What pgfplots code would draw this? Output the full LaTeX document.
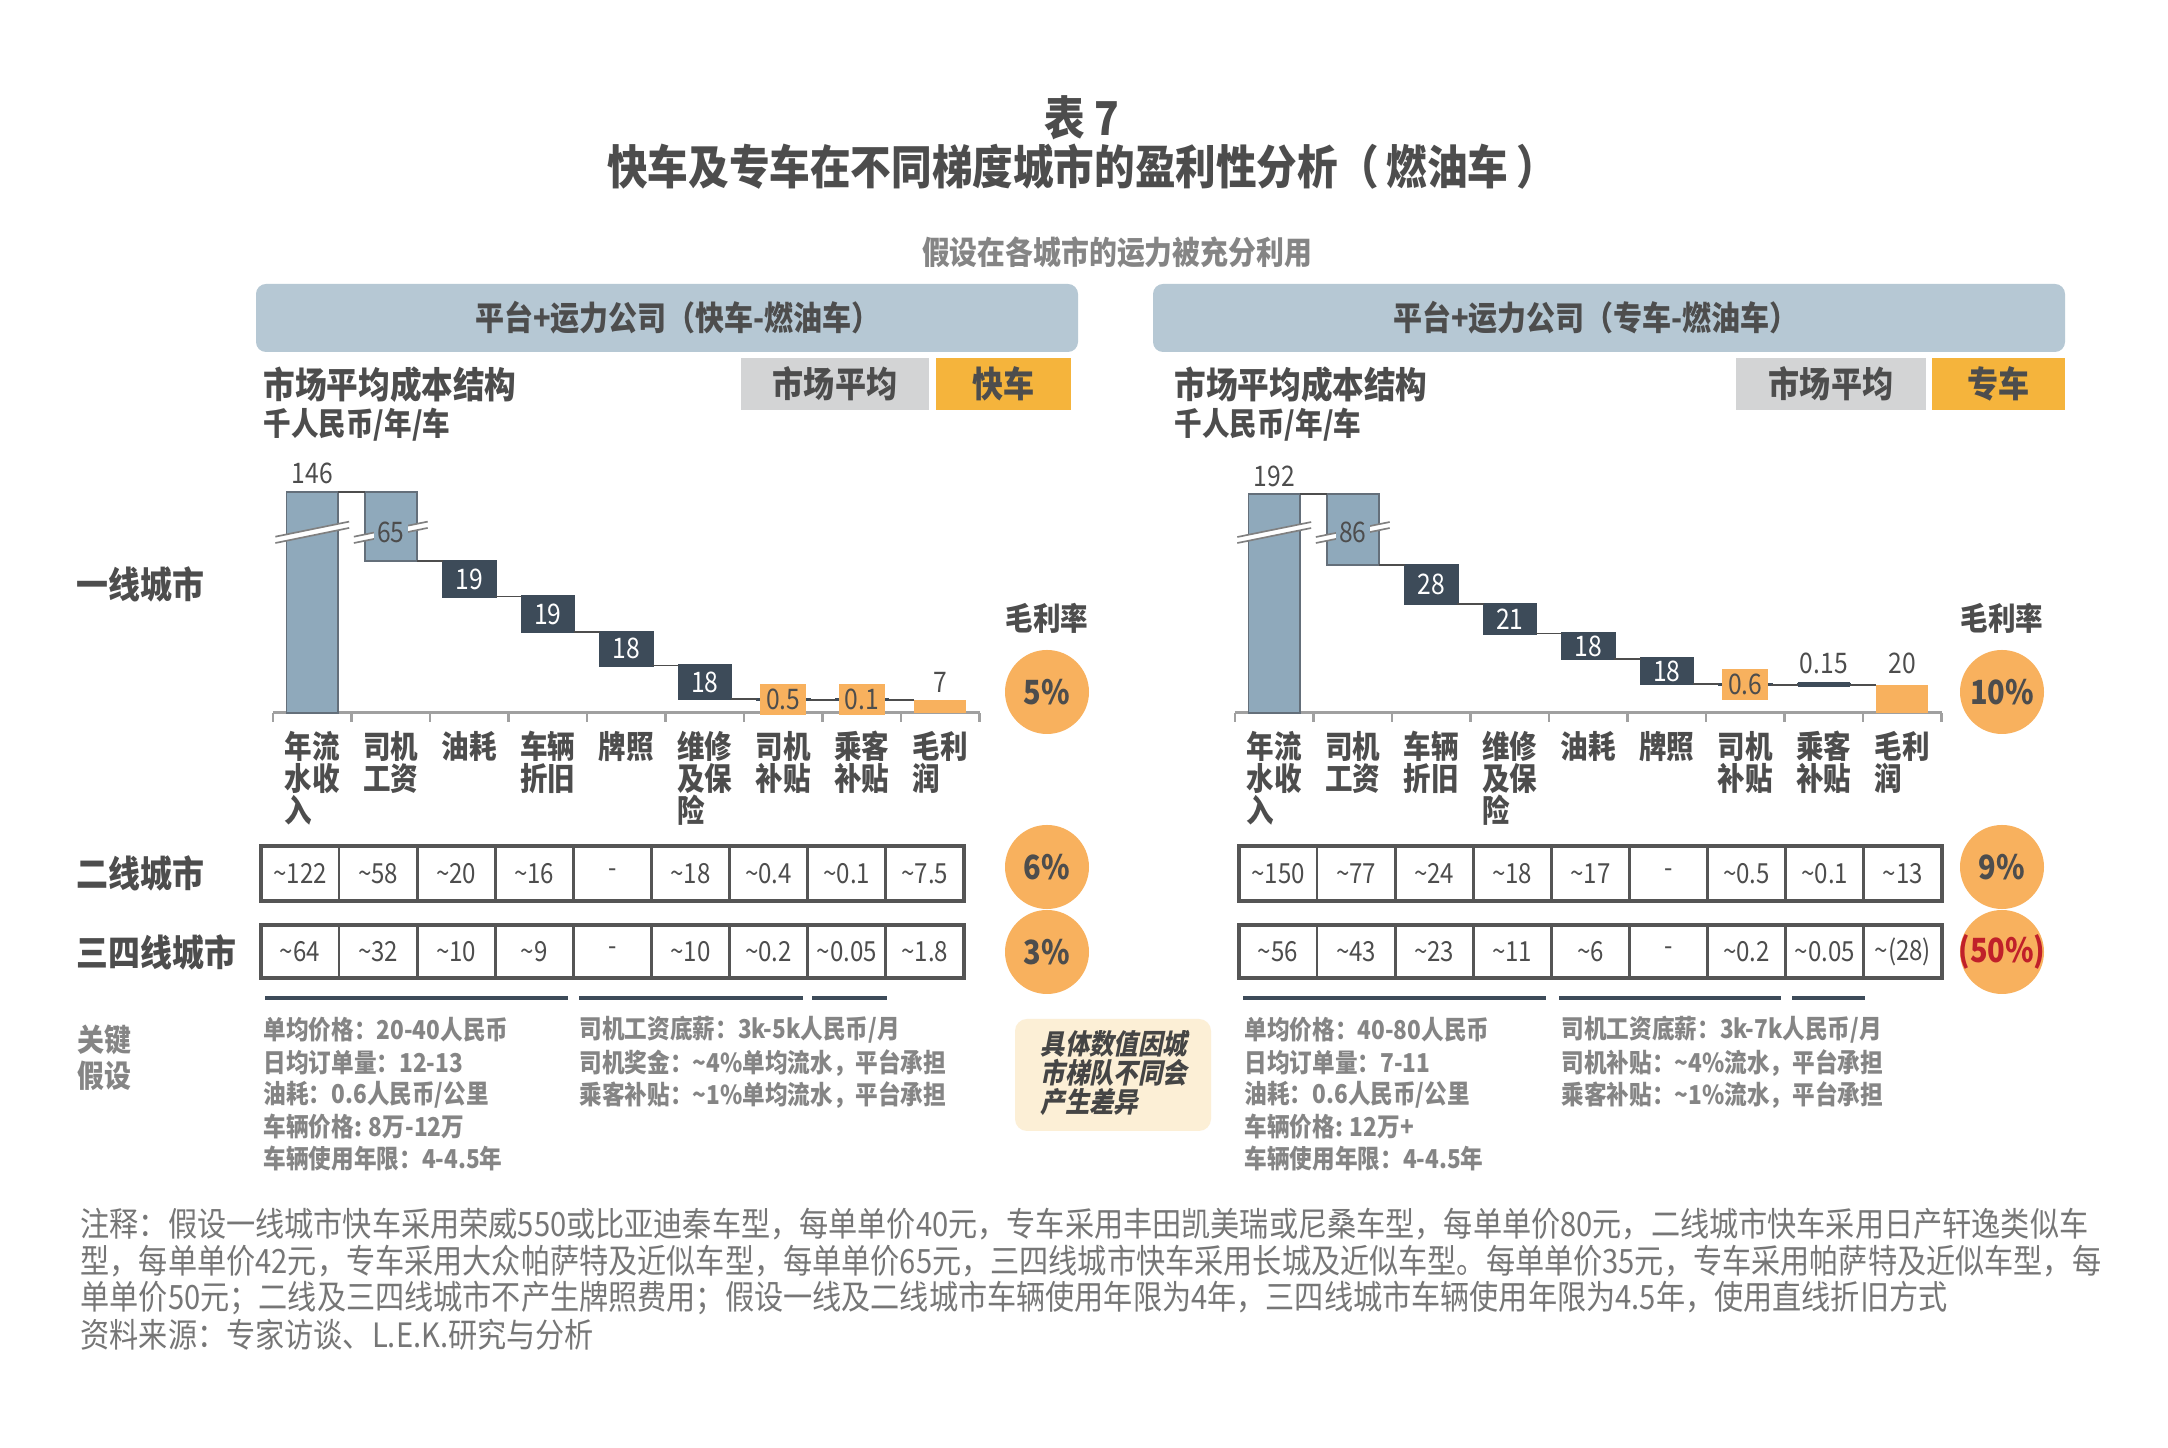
\documentclass[border=0pt]{standalone}
\usepackage{fontspec}
\setmainfont{Noto Sans CJK SC}[FakeStretch=0.87]
\newfontfamily\slfont{Noto Sans CJK SC}[FakeStretch=0.87, FakeSlant=0.2]
\usepackage{pgfplots}
\pgfplotsset{compat=1.18}
\definecolor{txt}{HTML}{4D4D4D}
\definecolor{hdr}{HTML}{B6C8D4}
\definecolor{steel}{HTML}{8FA9BB}
\definecolor{slate}{HTML}{3D4B59}
\definecolor{orng}{HTML}{F8B15E}
\definecolor{gold}{HTML}{F5B43C}
\definecolor{lgray}{HTML}{D3D4D5}
\definecolor{midgray}{HTML}{858585}
\definecolor{footgray}{HTML}{767676}
\definecolor{cream}{HTML}{FCEFD6}
\definecolor{redt}{HTML}{C0202A}
\definecolor{axgray}{HTML}{A0A0A0}
\definecolor{tbl}{HTML}{555555}
\newcommand{\fs}[2]{\fontsize{#1}{#2}\selectfont}
\newcommand{\tld}{\textasciitilde}
\pgfplotsset{wf/.style={
  scale only axis, width=212pt, height=78pt,
  anchor=south west,
  xmin=-0.5, xmax=8.5, ymin=0,
  ybar stacked, bar width=0.66,
  axis x line*=bottom, axis y line=none,
  axis line style={draw=axgray, line width=0.9pt},
  xtick={0,...,8}, major tick length=0pt,
  minor xtick={-0.5,0.5,...,8.5}, minor tick length=2.7pt,
  tick align=outside,
  minor tick style={draw=axgray, line width=0.8pt},
  xticklabel style={align=left, font=\bfseries\fs{9.5}{9.6}, text=txt, yshift=-2pt},
  ytick=\empty, clip=false,
}}
\newcommand{\brk}[5]{% center, y lower-left, y lower-right, y upper-left, y upper-right
  \fill[white] (axis cs:#1-0.47,#2) -- (axis cs:#1+0.47,#3) -- (axis cs:#1+0.47,#5) -- (axis cs:#1-0.47,#4) -- cycle;
  \draw[gray, line width=0.5pt] (axis cs:#1-0.47,#2) -- (axis cs:#1+0.47,#3);
  \draw[gray, line width=0.5pt] (axis cs:#1-0.47,#4) -- (axis cs:#1+0.47,#5);
}
\newcommand{\leftannot}{%
\draw[txt, line width=0.5pt] (axis cs:0.33,119) -- (axis cs:0.67,119);
\draw[txt, line width=0.5pt] (axis cs:1.33,81.6) -- (axis cs:1.67,81.6);
\draw[txt, line width=0.5pt] (axis cs:2.33,62.6) -- (axis cs:2.67,62.6);
\draw[txt, line width=0.5pt] (axis cs:3.33,43.6) -- (axis cs:3.67,43.6);
\draw[txt, line width=0.5pt] (axis cs:4.33,25.6) -- (axis cs:4.67,25.6);
\draw[txt, line width=0.5pt] (axis cs:5.33,7.6) -- (axis cs:5.67,7.6);
\draw[txt, line width=0.5pt] (axis cs:6.33,7.1) -- (axis cs:6.67,7.1);
\draw[txt, line width=0.5pt] (axis cs:7.33,7.0) -- (axis cs:7.67,7.0);
\brk{0}{91.4}{99.5}{94.8}{102.9}
\brk{1}{91.4}{99.5}{94.8}{102.9}
\node[anchor=south, font=\fs{8.5}{10}, inner sep=2pt] at (axis cs:0,119) {146};
\node[fill=steel, inner sep=1pt, font=\fs{8.5}{10}] at (axis cs:1,97.2) {65};
\node[text=white, font=\fs{8.5}{10}] at (axis cs:2,72.1) {19};
\node[text=white, font=\fs{8.5}{10}] at (axis cs:3,53.1) {19};
\node[text=white, font=\fs{8.5}{10}] at (axis cs:4,34.6) {18};
\node[text=white, font=\fs{8.5}{10}] at (axis cs:5,16.6) {18};
\node[fill=orng, inner sep=1.5pt, minimum width=13.8pt, minimum height=9pt, font=\fs{8.5}{10}] at (axis cs:6,7.5) {0.5};
\node[fill=orng, inner sep=1.5pt, minimum width=13.8pt, minimum height=9pt, font=\fs{8.5}{10}] at (axis cs:7,7.5) {0.1};
\node[anchor=south, font=\fs{8.5}{10}, inner sep=2pt] at (axis cs:8,7) {7};
}
\newcommand{\rightannot}{%
\draw[txt, line width=0.5pt] (axis cs:0.33,156.4) -- (axis cs:0.67,156.4);
\draw[txt, line width=0.5pt] (axis cs:1.33,105.75) -- (axis cs:1.67,105.75);
\draw[txt, line width=0.5pt] (axis cs:2.33,77.75) -- (axis cs:2.67,77.75);
\draw[txt, line width=0.5pt] (axis cs:3.33,56.75) -- (axis cs:3.67,56.75);
\draw[txt, line width=0.5pt] (axis cs:4.33,38.75) -- (axis cs:4.67,38.75);
\draw[txt, line width=0.5pt] (axis cs:5.33,20.75) -- (axis cs:5.67,20.75);
\draw[txt, line width=0.5pt] (axis cs:6.33,20.15) -- (axis cs:6.67,20.15);
\draw[txt, line width=0.5pt] (axis cs:7.33,20) -- (axis cs:7.67,20);
\draw[slate, line width=1.5pt] (axis cs:6.67,20.075) -- (axis cs:7.33,20.075);
\brk{0}{121.4}{132.1}{125.7}{136.4}
\brk{1}{121.4}{132.1}{125.7}{136.4}
\node[anchor=south, font=\fs{8.5}{10}, inner sep=2pt] at (axis cs:0,156.4) {192};
\node[fill=steel, inner sep=1pt, font=\fs{8.5}{10}] at (axis cs:1,129) {86};
\node[text=white, font=\fs{8.5}{10}] at (axis cs:2,91.75) {28};
\node[text=white, font=\fs{8.5}{10}] at (axis cs:3,67.25) {21};
\node[text=white, font=\fs{8.5}{10}] at (axis cs:4,47.75) {18};
\node[text=white, font=\fs{8.5}{10}] at (axis cs:5,29.75) {18};
\node[fill=orng, inner sep=1.5pt, minimum width=13.8pt, minimum height=9pt, font=\fs{8.5}{10}] at (axis cs:6,20.4) {0.6};
\node[anchor=south, font=\fs{8.5}{10}, inner sep=3pt] at (axis cs:7,20.15) {0.15};
\node[anchor=south, font=\fs{8.5}{10}, inner sep=3pt] at (axis cs:8,20) {20};
}
\begin{document}
\begin{tikzpicture}[x=0.3pt,y=0.3pt, every node/.append style={text=txt}]
\fill[white] (0,0) rectangle (2168,1448);
\path[use as bounding box] (0,0) rectangle (2168,1448);

% titles
\node[font=\bfseries\fs{14}{16}] at (1082,1330) {表 7};
\node[font=\bfseries\fs{14}{16}] at (1082,1281) {快车及专车在不同梯度城市的盈利性分析（\,燃油车\,）};
\node[font=\bfseries\fs{9.6}{11}, text=midgray] at (1117,1196) {假设在各城市的运力被充分利用};

% header boxes
\fill[hdr, rounded corners=3pt] (256,1096) rectangle (1078,1164);
\node[font=\bfseries\fs{10}{12}] at (678,1130) {平台+运力公司（快车-燃油车）};
\fill[hdr, rounded corners=3pt] (1153,1096) rectangle (2065,1164);
\node[font=\bfseries\fs{10}{12}] at (1596,1130) {平台+运力公司（专车-燃油车）};

% sub headers
\node[anchor=west, font=\bfseries\fs{10.9}{12}, inner sep=0pt] at (263,1063) {市场平均成本结构};
\node[anchor=west, font=\bfseries\fs{9.5}{11}, inner sep=0pt] at (263,1023) {千人民币/年/车};
\node[anchor=west, font=\bfseries\fs{10.9}{12}, inner sep=0pt] at (1174,1063) {市场平均成本结构};
\node[anchor=west, font=\bfseries\fs{9.5}{11}, inner sep=0pt] at (1174,1023) {千人民币/年/车};

% legend boxes
\fill[lgray] (741,1038) rectangle (929,1090);
\node[font=\bfseries\fs{10.7}{12}] at (835,1064) {市场平均};
\fill[gold] (936,1038) rectangle (1071,1090);
\node[font=\bfseries\fs{10.7}{12}] at (1003.5,1064) {快车};
\fill[lgray] (1736,1038) rectangle (1926,1090);
\node[font=\bfseries\fs{10.7}{12}] at (1831,1064) {市场平均};
\fill[gold] (1932,1038) rectangle (2065,1090);
\node[font=\bfseries\fs{10.7}{12}] at (1998.5,1064) {专车};

% ---------------- left waterfall (快车) ----------------
% bar heights for the broken bars (146 and 65) are the drawn, truncated heights
\begin{axis}[wf, at={(81.9pt,220.5pt)}, ymax=139.8,
  after end axis/.code={\leftannot},
  xticklabels={{年流\\水收\\入},{司机\\工资},{油耗},{车辆\\折旧},{牌照},{维修\\及保\\险},{司机\\补贴},{乘客\\补贴},{毛利\\润}}]
\addplot[draw=none, fill=none] coordinates {(0,0) (1,81.6) (2,62.6) (3,43.6) (4,25.6) (5,7.6) (6,7.1) (7,7.0) (8,0)};
\addplot[fill=steel, draw=slate!80, line width=0.5pt] coordinates {(0,119) (1,37.4) (2,0) (3,0) (4,0) (5,0) (6,0) (7,0) (8,0)};
\addplot[fill=orng, draw=none] coordinates {(0,0) (1,0) (2,0) (3,0) (4,0) (5,0) (6,0) (7,0) (8,7)};
\addplot[fill=slate, draw=slate, line width=0.8pt] coordinates {(0,0) (1,0) (2,19) (3,19) (4,18) (5,18) (6,0.5) (7,0.1) (8,0)};
\end{axis}

% ---------------- right waterfall (专车) ----------------
\begin{axis}[wf, at={(370.5pt,220.5pt)}, ymax=185.7,
  after end axis/.code={\rightannot},
  xticklabels={{年流\\水收\\入},{司机\\工资},{车辆\\折旧},{维修\\及保\\险},{油耗},{牌照},{司机\\补贴},{乘客\\补贴},{毛利\\润}}]
\addplot[draw=none, fill=none] coordinates {(0,0) (1,105.75) (2,77.75) (3,56.75) (4,38.75) (5,20.75) (6,20.15) (7,20) (8,0)};
\addplot[fill=steel, draw=slate!80, line width=0.5pt] coordinates {(0,156.4) (1,50.65) (2,0) (3,0) (4,0) (5,0) (6,0) (7,0) (8,0)};
\addplot[fill=orng, draw=none] coordinates {(0,0) (1,0) (2,0) (3,0) (4,0) (5,0) (6,0) (7,0) (8,20)};
\addplot[fill=slate, draw=slate, line width=0.8pt] coordinates {(0,0) (1,0) (2,28) (3,21) (4,18) (5,18) (6,0.6) (7,0.15) (8,0)};
\end{axis}

% margin labels
\node[font=\bfseries\fs{9.5}{11}] at (1047,830) {毛利率};
\node[font=\bfseries\fs{9.5}{11}] at (2002,830) {毛利率};
\fill[orng] (1047,756) circle (42); \node[font=\bfseries\fs{10}{12}] at (1047,756) {5\%};
\fill[orng] (1047,581) circle (42); \node[font=\bfseries\fs{10}{12}] at (1047,581) {6\%};
\fill[orng] (1047,496) circle (42); \node[font=\bfseries\fs{10}{12}] at (1047,496) {3\%};
\fill[orng] (2002,756) circle (42); \node[font=\bfseries\fs{10}{12}] at (2002,756) {10\%};
\fill[orng] (2002,581) circle (42); \node[font=\bfseries\fs{10}{12}] at (2002,581) {9\%};
\fill[orng] (2002,496) circle (42); \node[font=\bfseries\fs{10}{12}, text=redt] at (2002,496) {(50\%)};

% row labels
\node[anchor=west, font=\bfseries\fs{11}{12}, inner sep=0pt] at (76,864) {一线城市};
\node[anchor=west, font=\bfseries\fs{11}{12}, inner sep=0pt] at (76,575) {二线城市};
\node[anchor=west, font=\bfseries\fs{11}{12}, inner sep=0pt] at (76,496) {三四线城市};

% tables
\foreach \x in {261,1239}{
  \foreach \yb/\yt in {547/602,470/523}{
    \foreach \i in {1,...,8}{ \draw[tbl, line width=0.8pt] (\x+78.1*\i,\yb) -- (\x+78.1*\i,\yt); }
    \draw[tbl, line width=1.2pt] (\x,\yb) rectangle (\x+703,\yt);
  }
}
\foreach \v [count=\i from 0] in {\tld122,\tld58,\tld20,\tld16,-,\tld18,\tld0.4,\tld0.1,\tld7.5}
  \node[font=\fs{8.3}{10}] at (300+78.1*\i,574.5) {\v};
\foreach \v [count=\i from 0] in {\tld64,\tld32,\tld10,\tld9,-,\tld10,\tld0.2,\tld0.05,\tld1.8}
  \node[font=\fs{8.3}{10}] at (300+78.1*\i,496.5) {\v};
\foreach \v [count=\i from 0] in {\tld150,\tld77,\tld24,\tld18,\tld17,-,\tld0.5,\tld0.1,\tld13}
  \node[font=\fs{8.3}{10}] at (1278+78.1*\i,574.5) {\v};
\foreach \v [count=\i from 0] in {\tld56,\tld43,\tld23,\tld11,\tld6,-,\tld0.2,\tld0.05,\tld(28)}
  \node[font=\fs{8.3}{10}] at (1278+78.1*\i,496.5) {\v};

% underlines
\draw[slate, line width=1.2pt] (265,450) -- (568,450) (579,450) -- (803,450) (812,450) -- (887,450);
\draw[slate, line width=1.2pt] (1243,450) -- (1546,450) (1559,450) -- (1781,450) (1792,450) -- (1865,450);

% key assumptions
\node[anchor=west, font=\bfseries\fs{9.3}{11}, text=midgray, inner sep=0pt] at (77,408) {关键};
\node[anchor=west, font=\bfseries\fs{9.3}{11}, text=midgray, inner sep=0pt] at (77,372) {假设};
\begin{scope}[every node/.append style={anchor=west, font=\bfseries\fs{7.8}{9}, text=midgray, inner sep=0pt}]
\node at (263,418) {单均价格：20-40人民币};
\node at (263,385) {日均订单量：12-13};
\node at (263,353) {油耗：0.6人民币/公里};
\node at (263,321) {车辆价格: 8万-12万};
\node at (263,289) {车辆使用年限：4-4.5年};
\node at (579,418) {司机工资底薪：3k-5k人民币/月};
\node at (579,385) {司机奖金：\tld4\%单均流水，平台承担};
\node at (579,353) {乘客补贴：\tld1\%单均流水，平台承担};
\node at (1244,418) {单均价格：40-80人民币};
\node at (1244,385) {日均订单量：7-11};
\node at (1244,353) {油耗：0.6人民币/公里};
\node at (1244,321) {车辆价格: 12万+};
\node at (1244,289) {车辆使用年限：4-4.5年};
\node at (1561,418) {司机工资底薪：3k-7k人民币/月};
\node at (1561,385) {司机补贴：\tld4\%流水，平台承担};
\node at (1561,353) {乘客补贴：\tld1\%流水，平台承担};
\end{scope}

% note box
\fill[cream, rounded corners=3.6pt] (1015,317) rectangle (1211,429);
\begin{scope}[every node/.append style={anchor=west, font=\slfont\bfseries\fs{8.4}{9}, text=txt!90!black, inner sep=0pt}]
\node at (1040,404) {具体数值因城};
\node at (1040,375) {市梯队不同会};
\node at (1040,346) {产生差异};
\end{scope}

% footnote
\begin{scope}[every node/.append style={anchor=west, font=\fs{10.05}{12}, text=footgray, inner sep=0pt}]
\node at (80,224) {注释：假设一线城市快车采用荣威550或比亚迪秦车型，每单单价40元，专车采用丰田凯美瑞或尼桑车型，每单单价80元，二线城市快车采用日产轩逸类似车};
\node at (80,187) {型，每单单价42元，专车采用大众帕萨特及近似车型，每单单价65元，三四线城市快车采用长城及近似车型。每单单价35元，专车采用帕萨特及近似车型，每};
\node at (80,150) {单单价50元；二线及三四线城市不产生牌照费用；假设一线及二线城市车辆使用年限为4年，三四线城市车辆使用年限为4.5年，使用直线折旧方式};
\node at (80,113) {资料来源：专家访谈、L.E.K.研究与分析};
\end{scope}
\end{tikzpicture}
\end{document}
